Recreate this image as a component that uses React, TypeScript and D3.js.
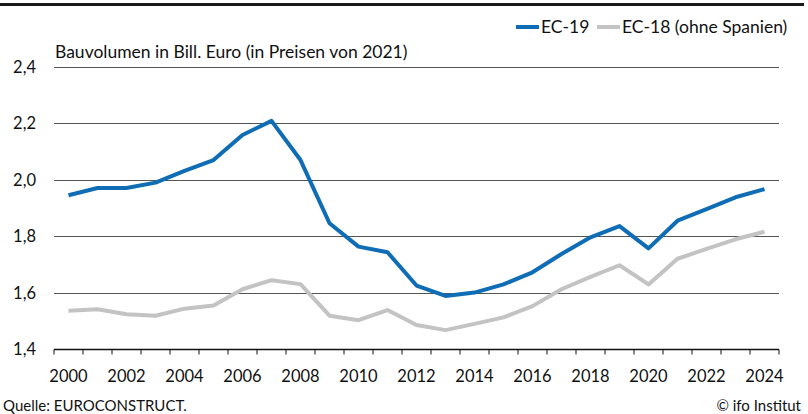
import React, { useEffect, useRef } from "react";
import * as d3 from "d3";

const years = d3.range(2000, 2025).map(String);
const ec19 = [1.945, 1.971, 1.971, 1.99, 2.032, 2.07, 2.159, 2.209, 2.07, 1.846, 1.763, 1.743, 1.625, 1.588, 1.6, 1.629, 1.672, 1.737, 1.796, 1.836, 1.757, 1.855, 1.896, 1.938, 1.967];
const ec18 = [1.536, 1.541, 1.523, 1.518, 1.543, 1.554, 1.612, 1.644, 1.63, 1.518, 1.502, 1.538, 1.485, 1.467, 1.489, 1.512, 1.552, 1.612, 1.656, 1.697, 1.629, 1.72, 1.755, 1.789, 1.816];
const yTicks = [1.4, 1.6, 1.8, 2.0, 2.2, 2.4];
const xLabels = years.filter((y) => +y % 2 === 0);

const W = 808;
const H = 414;
const FONT = "Lato, 'Noto Sans', sans-serif";

const App = () => {
  const svgRef = useRef<SVGSVGElement>(null);

  useEffect(() => {
    document.body.style.margin = "0";
    const svg = d3.select(svgRef.current);
    svg.selectAll("*").remove();

    const margin = { top: 67, right: 29, bottom: 65, left: 54 };

    const x = d3
      .scaleBand()
      .domain(years)
      .range([margin.left, W - margin.right]);

    const y = d3
      .scaleLinear()
      .domain([1.4, 2.4])
      .range([H - margin.bottom, margin.top]);

    // top rule
    svg
      .append("line")
      .attr("x1", 0)
      .attr("x2", 804)
      .attr("y1", 4.5)
      .attr("y2", 4.5)
      .attr("stroke", "#1a1a1a")
      .attr("stroke-width", 3);

    // grid
    svg
      .append("g")
      .selectAll("line")
      .data(yTicks)
      .enter()
      .append("line")
      .attr("x1", margin.left)
      .attr("x2", W - margin.right)
      .attr("y1", (d) => Math.round(y(d)) + 0.5)
      .attr("y2", (d) => Math.round(y(d)) + 0.5)
      .attr("stroke", (d) => (d === 1.4 ? "#111" : "#555"))
      .attr("stroke-width", (d) => (d === 1.4 ? 1.5 : 1.2));

    // y labels
    svg
      .append("g")
      .selectAll("text")
      .data(yTicks)
      .enter()
      .append("text")
      .attr("x", 36)
      .attr("y", (d) => y(d) + 6)
      .attr("text-anchor", "end")
      .attr("font-family", FONT)
      .attr("font-size", 16.5)
      .attr("fill", "#111")
      .text((d) => d3.format(".1f")(d).replace(".", ","));

    // x ticks at band boundaries
    const base = Math.round(y(1.4)) + 0.5;
    const bounds = years.map((d) => x(d) as number).concat([W - margin.right]);
    svg
      .append("g")
      .selectAll("line")
      .data(bounds)
      .enter()
      .append("line")
      .attr("x1", (d) => d)
      .attr("x2", (d) => d)
      .attr("y1", base)
      .attr("y2", base + 5)
      .attr("stroke", "#111")
      .attr("stroke-width", 1);

    svg
      .append("g")
      .selectAll("text")
      .data(xLabels)
      .enter()
      .append("text")
      .attr("x", (d) => (x(d) as number) + x.bandwidth() / 2)
      .attr("y", 382)
      .attr("text-anchor", "middle")
      .attr("font-family", FONT)
      .attr("font-size", 16.5)
      .attr("fill", "#111")
      .text((d) => d);

    const line = d3
      .line<number>()
      .x((_, i) => (x(years[i]) as number) + x.bandwidth() / 2)
      .y((d) => y(d));

    svg
      .append("path")
      .datum(ec18)
      .attr("d", line)
      .attr("fill", "none")
      .attr("stroke", "#c3c3c3")
      .attr("stroke-width", 4)
      .attr("stroke-linejoin", "round");

    svg
      .append("path")
      .datum(ec19)
      .attr("d", line)
      .attr("fill", "none")
      .attr("stroke", "#0f6db5")
      .attr("stroke-width", 4)
      .attr("stroke-linejoin", "round");

    // legend
    const legend = [
      { label: "EC-19", color: "#0f6db5", x: 516 },
      { label: "EC-18 (ohne Spanien)", color: "#c3c3c3", x: 597 },
    ];
    legend.forEach((l) => {
      svg
        .append("line")
        .attr("x1", l.x)
        .attr("x2", l.x + 23)
        .attr("y1", 27)
        .attr("y2", 27)
        .attr("stroke", l.color)
        .attr("stroke-width", 4);
      svg
        .append("text")
        .attr("x", l.x + 25)
        .attr("y", 33)
        .attr("font-family", FONT)
        .attr("font-size", 17.5)
        .attr("fill", "#111")
        .text(l.label);
    });

    // title
    svg
      .append("text")
      .attr("x", 55)
      .attr("y", 58)
      .attr("font-family", FONT)
      .attr("font-size", 17.5)
      .attr("fill", "#111")
      .text("Bauvolumen in Bill. Euro (in Preisen von 2021)");

    // footer
    svg
      .append("text")
      .attr("x", 3)
      .attr("y", 411)
      .attr("font-family", FONT)
      .attr("font-size", 15)
      .attr("fill", "#111")
      .text("Quelle: EUROCONSTRUCT.");
    svg
      .append("text")
      .attr("x", 801)
      .attr("y", 411)
      .attr("text-anchor", "end")
      .attr("font-family", FONT)
      .attr("font-size", 15)
      .attr("fill", "#111")
      .text("© ifo Institut");
  }, []);

  return <svg ref={svgRef} width={W} height={H} style={{ display: "block", background: "#fff" }} />;
};

export default App;
